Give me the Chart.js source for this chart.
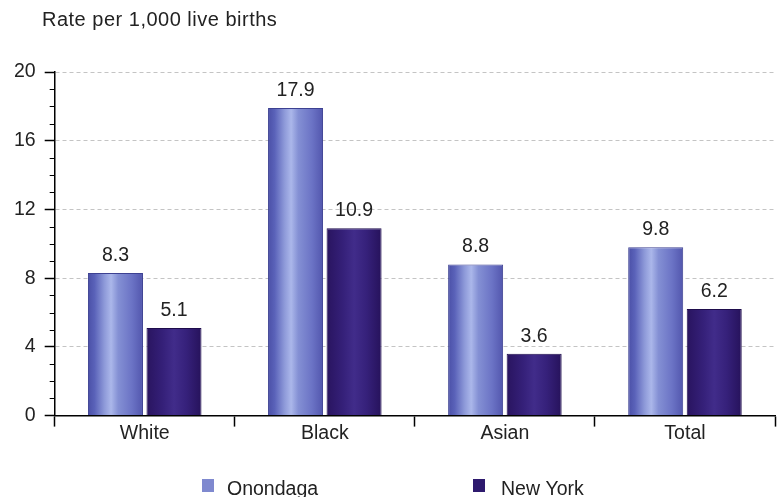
<!DOCTYPE html>
<html>
<head>
<meta charset="utf-8">
<script src="https://cdn.jsdelivr.net/npm/chart.js@4.4.1/dist/chart.umd.min.js"></script>
<style>
  html, body { margin: 0; padding: 0; background: #fff; }
  #wrap { width: 777px; height: 497px; position: relative; }
</style>
</head>
<body>
<div id="wrap"><canvas id="myChart"></canvas></div>
<script>
const categories = ['White', 'Black', 'Asian', 'Total'];
const onondagaRates = [8.3, 17.9, 8.8, 9.8];
const newYorkRates = [5.1, 10.9, 3.6, 6.2];
const seriesNames = ['Onondaga', 'New York'];
const axisTitle = 'Rate per 1,000 live births';
const yMax = 20;
const yStep = 4;

const FONT = "'Liberation Sans', Arial, sans-serif";

// horizontal shading of each bar (light streak left of centre)
const gradStops = [
  [[0, '#4a4fa6'], [0.12, '#5a62b9'], [0.3, '#8e9ad9'], [0.42, '#abb7ea'], [0.55, '#8490d4'], [0.8, '#6b73c5'], [1, '#5256ad']],
  [[0, '#29145f'], [0.3, '#352079'], [0.5, '#412c8a'], [0.72, '#36217b'], [1, '#26125b']]
];
const legendColors = ['#7f89cf', '#2e1a6e'];

const barGradient = {
  id: 'barGradient',
  beforeDatasetsDraw(chart) {
    const { ctx } = chart;
    chart.data.datasets.forEach((ds, di) => {
      chart.getDatasetMeta(di).data.forEach(el => {
        const left = el.x - el.width / 2;
        const g = ctx.createLinearGradient(left, 0, left + el.width, 0);
        gradStops[di].forEach(s => g.addColorStop(s[0], s[1]));
        el.options.backgroundColor = g;
      });
    });
  }
};

const valueLabels = {
  id: 'valueLabels',
  afterDatasetsDraw(chart) {
    const { ctx } = chart;
    ctx.save();
    ctx.font = '19.5px ' + FONT;
    ctx.fillStyle = '#222';
    ctx.textAlign = 'center';
    ctx.textBaseline = 'alphabetic';
    chart.data.datasets.forEach((ds, di) => {
      chart.getDatasetMeta(di).data.forEach((el, i) => {
        ctx.fillText(ds.data[i].toFixed(1), el.x, el.y - 12);
      });
    });
    ctx.restore();
  }
};

const minorTicks = {
  id: 'minorTicks',
  afterDraw(chart) {
    const { ctx, scales: { y } } = chart;
    ctx.save();
    ctx.strokeStyle = '#000';
    ctx.lineWidth = 1;
    for (let v = 1; v < yMax; v++) {
      if (v % yStep === 0) continue;
      const py = Math.round(y.getPixelForValue(v)) + 0.5;
      ctx.beginPath();
      ctx.moveTo(y.right - 5, py);
      ctx.lineTo(y.right, py);
      ctx.stroke();
    }
    ctx.restore();
  }
};

const titleLegend = {
  id: 'titleLegend',
  afterDraw(chart) {
    const { ctx } = chart;
    ctx.save();
    ctx.fillStyle = '#222';
    ctx.font = '20px ' + FONT;
    ctx.textBaseline = 'alphabetic';
    ctx.textAlign = 'left';
    ctx.letterSpacing = '0.5px';
    ctx.fillText(axisTitle, 42, 26);
    ctx.letterSpacing = '0px';

    ctx.font = '19.5px ' + FONT;
    const items = [{ box: 202, text: 227 }, { box: 473, text: 501 }];
    seriesNames.forEach((name, i) => {
      ctx.fillStyle = legendColors[i];
      ctx.fillRect(items[i].box, 479, 12, 13);
      ctx.fillStyle = '#222';
      ctx.fillText(name, items[i].text, 495);
    });
    ctx.restore();
  }
};

new Chart(document.getElementById('myChart'), {
  type: 'bar',
  data: {
    labels: categories,
    datasets: [
      {
        label: seriesNames[0],
        data: onondagaRates,
        backgroundColor: (c) => legendColors[0],
        borderColor: '#3d4192',
        borderWidth: 1,
        categoryPercentage: 0.65,
        barPercentage: 0.94
      },
      {
        label: seriesNames[1],
        data: newYorkRates,
        backgroundColor: (c) => legendColors[1],
        borderColor: '#1e0c4c',
        borderWidth: 1,
        categoryPercentage: 0.65,
        barPercentage: 0.94
      }
    ]
  },
  options: {
    responsive: true,
    maintainAspectRatio: false,
    animation: false,
    events: [],
    layout: { padding: { top: 72, left: 5, right: 2, bottom: 57 } },
    plugins: {
      legend: { display: false },
      tooltip: { enabled: false }
    },
    scales: {
      x: {
        grid: {
          drawOnChartArea: false,
          drawTicks: true,
          tickLength: 11,
          tickColor: '#000',
          tickWidth: 1.5,
          offset: true
        },
        border: { color: '#000', width: 1.5 },
        ticks: { color: '#222', font: { family: FONT, size: 19.5 }, padding: -5 }
      },
      y: {
        min: 0,
        max: yMax,
        ticks: { stepSize: yStep, color: '#222', font: { family: FONT, size: 19.5 }, padding: 9 },
        grid: {
          color: '#c4c4c4',
          lineWidth: 1,
          tickLength: 10,
          tickColor: '#000',
          tickWidth: 1.5,
          tickBorderDash: []
        },
        border: { color: '#000', width: 1.5, dash: [4, 3] }
      }
    }
  },
  plugins: [barGradient, valueLabels, minorTicks, titleLegend]
});
</script>
</body>
</html>
